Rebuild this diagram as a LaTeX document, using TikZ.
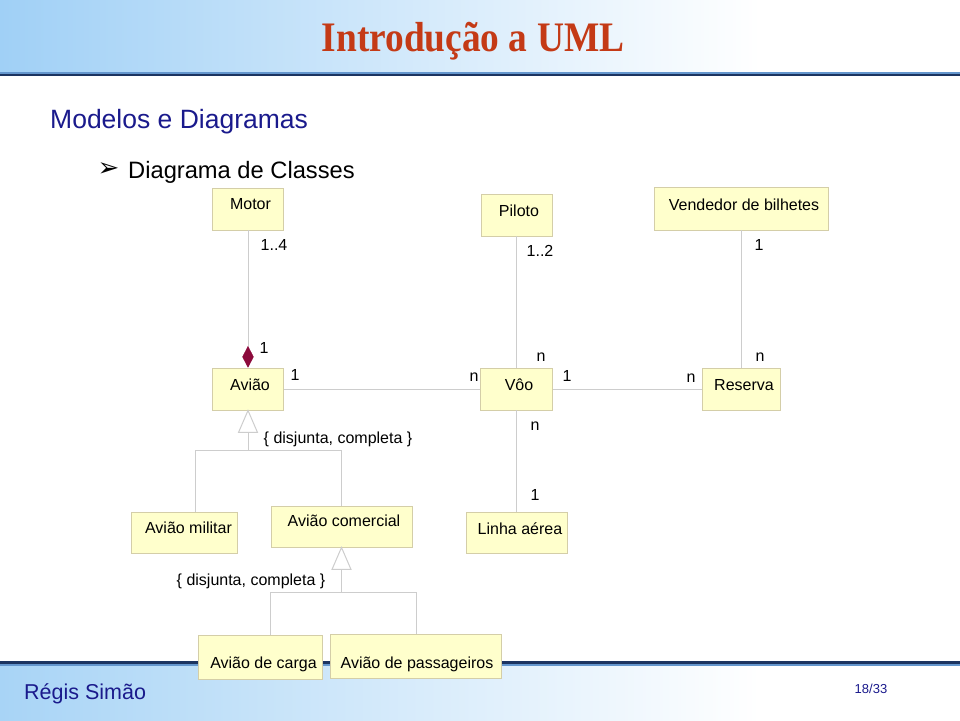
\documentclass[tikz,border=0pt]{standalone}
\usepackage{fontspec}
\setmainfont{Liberation Sans}
\newfontfamily\titlefont{Liberation Serif}
\newfontfamily\symfont{DejaVu Sans}
\usetikzlibrary{shapes.geometric,calc}
\definecolor{hdrblue}{RGB}{160,208,246}
\definecolor{ftrblue}{RGB}{168,212,246}
\definecolor{hdrdark}{RGB}{28,52,96}
\definecolor{hdrlight}{RGB}{100,150,205}
\definecolor{titlered}{RGB}{196,58,22}
\definecolor{navy}{RGB}{26,26,140}
\definecolor{boxfill}{RGB}{255,255,204}
\definecolor{boxline}{RGB}{212,206,168}
\definecolor{conngray}{RGB}{205,205,205}
\definecolor{diared}{RGB}{140,10,60}
\tikzset{
  box/.style={draw=boxline, fill=boxfill, line width=0.9pt, inner sep=0pt},
  lbl/.style={inner sep=0pt, font=\fontsize{16}{19}\selectfont},
  conn/.style={draw=conngray, line width=1pt},
}
\begin{document}
\begin{tikzpicture}[x=1pt,y=-1pt]
\useasboundingbox (0,0) rectangle (960,720);
% header
\shade[left color=hdrblue, right color=white] (0,0) rectangle (760,73);
\draw[hdrlight, line width=2pt] (0,72.5) -- (960,72.5);
\draw[hdrdark, line width=2.5pt] (0,75) -- (960,75);
\node[text=titlered, font=\titlefont\bfseries\fontsize{42}{44}\selectfont, inner sep=0pt, xscale=0.89] (title) at (473,41) {Introdução a UML};
% footer
\shade[left color=ftrblue, right color=white] (0,665) rectangle (760,720);
\draw[hdrdark, line width=2.5pt] (0,662.5) -- (960,662.5);
\draw[hdrlight, line width=2pt] (0,665) -- (960,665);
\node[text=navy, anchor=base west, inner sep=0pt, font=\fontsize{21.5}{24}\selectfont] (author) at (24,699) {Régis Simão};
\node[text=navy, inner sep=0pt, font=\fontsize{13}{15}\selectfont] (page) at (871,689) {18/33};
% headings
\node[text=navy, anchor=base west, inner sep=0pt, font=\fontsize{26.5}{30}\selectfont] (sect) at (50,128) {Modelos e Diagramas};
\node[inner sep=0pt, font=\symfont\bfseries\fontsize{26}{28}\selectfont] (bullet) at (108.5,170) {➢};
\node[anchor=base west, inner sep=0pt, font=\fontsize{23.7}{27}\selectfont] (sub) at (128,178) {Diagrama de Classes};

% boxes
\node[box, minimum width=71, minimum height=42] (motor) at (248,209) {};
\node[box, minimum width=71, minimum height=42] (piloto) at (516.5,215) {};
\node[box, minimum width=174, minimum height=43] (vend) at (741,208.5) {};
\node[box, minimum width=71, minimum height=42] (aviao) at (248,389) {};
\node[box, minimum width=72, minimum height=42] (voo) at (516.5,389) {};
\node[box, minimum width=78, minimum height=42] (reserva) at (741,389) {};
\node[box, minimum width=106, minimum height=41] (militar) at (184.5,533) {};
\node[box, minimum width=141, minimum height=41] (comercial) at (341.5,526.5) {};
\node[box, minimum width=101, minimum height=41] (linha) at (516.5,533) {};
\node[box, minimum width=124, minimum height=44] (carga) at (260,657) {};
\node[box, minimum width=171, minimum height=44] (pass) at (416,656) {};

% box texts
\node[lbl] (motor-t) at (250.5,204) {Motor};
\node[lbl] (piloto-t) at (519,211) {Piloto};
\node[lbl] (vend-t) at (744,205) {Vendedor de bilhetes};
\node[lbl] (aviao-t) at (250,385) {Avião};
\node[lbl] (voo-t) at (519,385) {Vôo};
\node[lbl] (reserva-t) at (744,385) {Reserva};
\node[lbl] (militar-t) at (188.5,528) {Avião militar};
\node[lbl] (comercial-t) at (344,521) {Avião comercial};
\node[lbl] (linha-t) at (520,528.5) {Linha aérea};
\node[lbl] (carga-t) at (263.5,664.5) {Avião de carga};
\node[lbl] (pass-t) at (417,664.5) {Avião de passageiros};

% associations
\node[diamond, fill=diared, draw=diared, minimum width=11, minimum height=21, inner sep=0pt, anchor=south] (dia) at (aviao.north) {};
\draw[conn] (motor.south) -- (dia.north);
\draw[conn] (piloto.south) -- (voo.north);
\draw[conn] (vend.south) -- (reserva.north);
\draw[conn] (aviao.east) -- (voo.west);
\draw[conn] (voo.east) -- (reserva.west);
\draw[conn] (voo.south) -- (linha.north);

% generalization 1
\coordinate (t1) at ($(aviao.south)+(0,22)$);
\coordinate (j1) at ($(aviao.south)+(0,40)$);
\draw[conn] (t1) -- (j1);
\draw[conn] ($(militar.north)+(10.5,0)$) |- (j1) -| (comercial.north);
\draw[conn, fill=white] (aviao.south) -- ++(-9.5,22) -- ++(19,0) -- cycle;

% generalization 2
\coordinate (t2) at ($(comercial.south)+(0,22)$);
\coordinate (j2) at ($(comercial.south)+(0,45.5)$);
\draw[conn] (t2) -- (j2);
\draw[conn] ($(carga.north)+(10.5,0)$) |- (j2) -| (pass.north);
\draw[conn, fill=white] (comercial.south) -- ++(-9.5,22) -- ++(19,0) -- cycle;

% multiplicities
\node[lbl] (m1) at (274,245) {1..4};
\node[lbl] (m2) at (540,251) {1..2};
\node[lbl] (m3) at (759,245) {1};
\node[lbl] (m4) at (264,348) {1};
\node[lbl] (m5) at (295,375) {1};
\node[lbl] (m6) at (474,377) {n};
\node[lbl] (m7) at (541,357) {n};
\node[lbl] (m8) at (567,376) {1};
\node[lbl] (m9) at (691,378) {n};
\node[lbl] (m10) at (760,357) {n};
\node[lbl] (m11) at (535,426) {n};
\node[lbl] (m12) at (535,495) {1};
\node[lbl] (c1) at (338,439) {\{ disjunta, completa \}};
\node[lbl] (c2) at (251,581) {\{ disjunta, completa \}};
\end{tikzpicture}
\end{document}
